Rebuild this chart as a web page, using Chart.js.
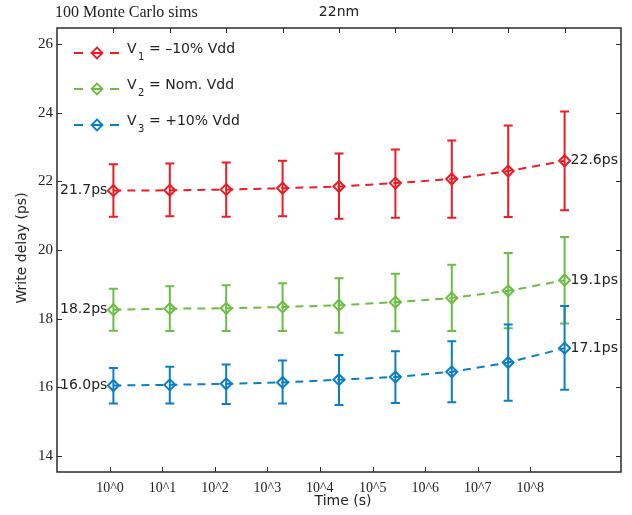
<!DOCTYPE html>
<html>
<head>
<meta charset="utf-8">
<script src="https://cdn.jsdelivr.net/npm/chart.js@4.4.0/dist/chart.umd.min.js"></script>
<style>
  html, body { margin: 0; padding: 0; background: #fff; }
  #wrap { width: 632px; height: 515px; }
</style>
</head>
<body>
<div id="wrap"><canvas id="delayChart" width="632" height="515"></canvas></div>
<script>
// time steps (bottom axis labels) and where they sit on the axis
const categories = ['10^0', '10^1', '10^2', '10^3', '10^4', '10^5', '10^6', '10^7', '10^8'];
const xPoints = [1, 2, 3, 4, 5, 6, 7, 8, 9];
const xTickValues = [0.94, 1.87, 2.80, 3.73, 4.66, 5.60, 6.53, 7.46, 8.39];
const yTicks = [14, 16, 18, 20, 22, 24, 26];

// V1 = -10% Vdd
const v1Mean = [21.73, 21.74, 21.76, 21.80, 21.85, 21.95, 22.07, 22.30, 22.60];
const v1Low  = [20.97, 20.98, 20.97, 20.98, 20.91, 20.94, 20.94, 20.96, 21.16];
const v1High = [22.50, 22.52, 22.55, 22.60, 22.81, 22.93, 23.19, 23.63, 24.04];
// V2 = Nom. Vdd
const v2Mean = [18.26, 18.29, 18.30, 18.34, 18.39, 18.48, 18.60, 18.81, 19.12];
const v2Low  = [17.65, 17.64, 17.64, 17.64, 17.59, 17.63, 17.64, 17.72, 17.86];
const v2High = [18.87, 18.94, 18.97, 19.03, 19.18, 19.31, 19.57, 19.91, 20.38];
// V3 = +10% Vdd
const v3Mean = [16.05, 16.07, 16.10, 16.14, 16.22, 16.30, 16.45, 16.72, 17.14];
const v3Low  = [15.53, 15.53, 15.51, 15.53, 15.48, 15.54, 15.56, 15.61, 15.93];
const v3High = [16.56, 16.60, 16.66, 16.78, 16.94, 17.05, 17.34, 17.83, 18.37];

const startLabels = ['21.7ps', '18.2ps', '16.0ps'];
const endLabels = ['22.6ps', '19.1ps', '17.1ps'];
const legendMain = ['V', 'V', 'V'];
const legendSub = ['1', '2', '3'];
const legendRest = ['= \u201310% Vdd', '= Nom. Vdd', '= +10% Vdd'];

const colors = ['#ec1c24', '#6cbd45', '#0a7fc3'];
const series = [
    { mean: v1Mean, low: v1Low, high: v1High },
    { mean: v2Mean, low: v2Low, high: v2High },
    { mean: v3Mean, low: v3Low, high: v3High }
];

const SANS = '"DejaVu Sans", sans-serif';
const SERIF = '"Liberation Serif", serif';

const extras = {
    id: 'extras',
    afterDatasetsDraw(chart) {
        const ctx = chart.ctx;
        const xs = chart.scales.x, ys = chart.scales.y;
        const a = chart.chartArea;

        // error bars
        series.forEach((s, k) => {
            ctx.save();
            ctx.strokeStyle = colors[k];
            ctx.lineWidth = 2;
            ctx.setLineDash([]);
            xPoints.forEach((xv, i) => {
                const px = xs.getPixelForValue(xv);
                const pl = ys.getPixelForValue(s.low[i]);
                const ph = ys.getPixelForValue(s.high[i]);
                ctx.beginPath();
                ctx.moveTo(px, pl); ctx.lineTo(px, ph);
                ctx.moveTo(px - 4.5, pl); ctx.lineTo(px + 4.5, pl);
                ctx.moveTo(px - 4.5, ph); ctx.lineTo(px + 4.5, ph);
                ctx.stroke();
            });
            ctx.restore();
        });

        // value labels at both ends
        ctx.save();
        ctx.font = '14px ' + SANS;
        ctx.fillStyle = '#222';
        ctx.textBaseline = 'middle';
        series.forEach((s, k) => {
            const n = s.mean.length - 1;
            ctx.textAlign = 'right';
            ctx.fillText(startLabels[k], xs.getPixelForValue(xPoints[0]) - 6, ys.getPixelForValue(s.mean[0]));
            ctx.textAlign = 'left';
            ctx.fillText(endLabels[k], xs.getPixelForValue(xPoints[n]) + 6, ys.getPixelForValue(s.mean[n]));
        });
        ctx.restore();

        // frame and inward ticks
        ctx.save();
        ctx.strokeStyle = '#2a2a2a';
        ctx.lineWidth = 1.5;
        ctx.strokeRect(a.left, a.top, a.right - a.left, a.bottom - a.top);
        ctx.lineWidth = 1;
        ctx.beginPath();
        xTickValues.forEach(v => {
            const px = Math.round(xs.getPixelForValue(v)) + 0.5;
            ctx.moveTo(px, a.bottom); ctx.lineTo(px, a.bottom - 5);
        });
        xPoints.forEach(v => {
            const px = Math.round(xs.getPixelForValue(v)) + 0.5;
            ctx.moveTo(px, a.top); ctx.lineTo(px, a.top + 5);
        });
        yTicks.forEach(v => {
            const py = Math.round(ys.getPixelForValue(v)) + 0.5;
            ctx.moveTo(a.left, py); ctx.lineTo(a.left + 5, py);
            ctx.moveTo(a.right, py); ctx.lineTo(a.right - 5, py);
        });
        ctx.stroke();
        ctx.restore();

        // legend
        ctx.save();
        colors.forEach((c, k) => {
            const ly = 53 + k * 36;
            ctx.strokeStyle = c;
            ctx.lineWidth = 2;
            ctx.beginPath();
            ctx.moveTo(74, ly); ctx.lineTo(83, ly);
            ctx.moveTo(110, ly); ctx.lineTo(119, ly);
            ctx.stroke();
            ctx.lineWidth = 1.8;
            ctx.beginPath();
            ctx.moveTo(97, ly - 5.5); ctx.lineTo(102.5, ly);
            ctx.lineTo(97, ly + 5.5); ctx.lineTo(91.5, ly);
            ctx.closePath();
            ctx.moveTo(91.5, ly); ctx.lineTo(102.5, ly);
            ctx.stroke();
            ctx.fillStyle = '#222';
            ctx.textAlign = 'left';
            ctx.textBaseline = 'alphabetic';
            ctx.font = '14px ' + SANS;
            ctx.fillText(legendMain[k], 127, ly);
            ctx.font = '10px ' + SANS;
            ctx.fillText(legendSub[k], 138, ly + 7);
            ctx.font = '14px ' + SANS;
            ctx.fillText(legendRest[k], 149, ly);
        });
        ctx.restore();

        // titles
        ctx.save();
        ctx.fillStyle = '#222';
        ctx.textBaseline = 'middle';
        ctx.font = '16px ' + SERIF;
        ctx.textAlign = 'left';
        ctx.fillText('100 Monte Carlo sims', 55, 13);
        ctx.font = '14px ' + SANS;
        ctx.textAlign = 'center';
        ctx.fillText('22nm', (a.left + a.right) / 2, 12);
        ctx.fillText('Time (s)', 343, 501);
        ctx.translate(22, 248);
        ctx.rotate(-Math.PI / 2);
        ctx.fillText('Write delay (ps)', 0, 0);
        ctx.restore();
    }
};

const ctx = document.getElementById('delayChart').getContext('2d');
const delayChart = new Chart(ctx, {
    type: 'line',
    data: {
        datasets: series.map((s, k) => ({
            label: legendMain[k] + legendSub[k],
            data: xPoints.map((x, i) => ({ x: x, y: s.mean[i] })),
            borderColor: colors[k],
            borderWidth: 2,
            borderDash: [8, 6],
            fill: false,
            tension: 0,
            pointStyle: 'rectRot',
            pointRadius: 5.5,
            pointBorderWidth: 2,
            pointBorderColor: colors[k],
            pointBackgroundColor: 'rgba(0,0,0,0)'
        }))
    },
    options: {
        responsive: false,
        animation: false,
        devicePixelRatio: 1,
        layout: { padding: { left: 0, right: 11, top: 28, bottom: 0 } },
        plugins: {
            legend: { display: false },
            tooltip: { enabled: false }
        },
        scales: {
            x: {
                type: 'linear',
                min: 0,
                max: 10,
                afterBuildTicks: s => { s.ticks = xTickValues.map(v => ({ value: v })); },
                afterFit: s => { s.height = 43; },
                grid: { display: false, drawTicks: false },
                border: { display: false },
                ticks: {
                    autoSkip: false,
                    maxRotation: 0,
                    padding: 8,
                    color: '#222',
                    font: { family: SERIF, size: 14 },
                    callback: (v, i) => categories[i]
                }
            },
            y: {
                min: 13.53,
                max: 26.47,
                afterBuildTicks: s => { s.ticks = yTicks.map(v => ({ value: v })); },
                afterFit: s => { s.width = 57; },
                grid: { display: false, drawTicks: false },
                border: { display: false },
                ticks: {
                    padding: 4,
                    color: '#222',
                    font: { family: SERIF, size: 15 }
                }
            }
        }
    },
    plugins: [extras]
});
</script>
</body>
</html>
